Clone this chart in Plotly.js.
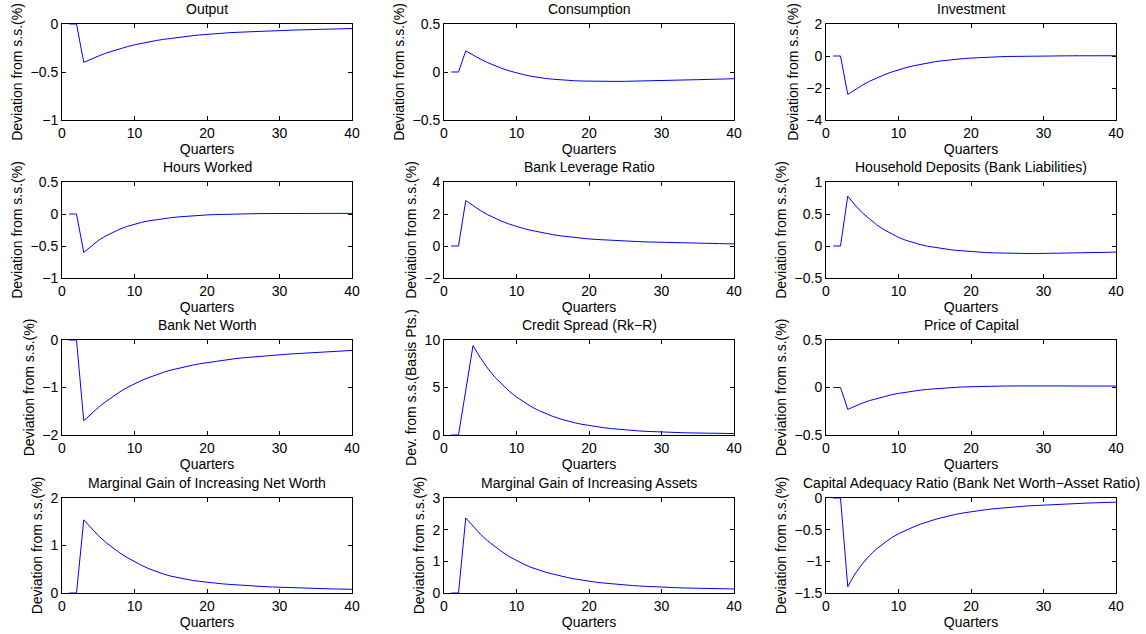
<!DOCTYPE html>
<html>
<head>
<meta charset="utf-8">
<script src="https://cdn.plot.ly/plotly-3.0.1.min.js"></script>
<style>html,body{margin:0;padding:0;background:#fff;}#chart{width:1146px;height:634px;}</style>
</head>
<body>
<div id="chart"></div>
<script>
const quarters = Array.from({length: 40}, (_, i) => i + 1);

const titles = [
  "Output", "Consumption", "Investment",
  "Hours Worked", "Bank Leverage Ratio", "Household Deposits (Bank Liabilities)",
  "Bank Net Worth", "Credit Spread (Rk\u2212R)", "Price of Capital",
  "Marginal Gain of Increasing Net Worth", "Marginal Gain of Increasing Assets", "Capital Adequacy Ratio (Bank Net Worth\u2212Asset Ratio)"
];
const yTitles = [
  "Deviation from s.s.(%)", "Deviation from s.s.(%)", "Deviation from s.s.(%)",
  "Deviation from s.s.(%)", "Deviation from s.s.(%)", "Deviation from s.s.(%)",
  "Deviation from s.s.(%)", "Dev. from s.s.(Basis Pts.)", "Deviation from s.s.(%)",
  "Deviation from s.s.(%)", "Deviation from s.s.(%)", "Deviation from s.s.(%)"
];
const yRanges = [
  [-1, 0], [-0.5, 0.5], [-4, 2],
  [-1, 0.5], [-2, 4], [-0.5, 1],
  [-2, 0], [0, 10], [-0.5, 0.5],
  [0, 2], [0, 3], [-1.5, 0]
];
const yDticks = [0.5, 0.5, 2, 0.5, 2, 0.5, 1, 5, 0.5, 1, 1, 0.5];

const output = [0, 0, -0.40, -0.365, -0.335, -0.305, -0.28, -0.257, -0.236, -0.217, -0.200, -0.185, -0.172, -0.160, -0.149, -0.139, -0.130, -0.122, -0.114, -0.107, -0.101, -0.096, -0.091, -0.087, -0.083, -0.080, -0.077, -0.074, -0.071, -0.068, -0.066, -0.063, -0.061, -0.059, -0.057, -0.055, -0.053, -0.051, -0.049, -0.047];
const consumption = [0, 0, 0.22, 0.175, 0.135, 0.098, 0.066, 0.037, 0.012, -0.01, -0.028, -0.044, -0.057, -0.067, -0.075, -0.082, -0.087, -0.091, -0.094, -0.096, -0.097, -0.098, -0.098, -0.098, -0.097, -0.096, -0.095, -0.094, -0.092, -0.090, -0.088, -0.086, -0.084, -0.082, -0.080, -0.078, -0.076, -0.074, -0.072, -0.070];
const investment = [0, 0, -2.40, -2.10, -1.83, -1.58, -1.37, -1.18, -1.01, -0.86, -0.73, -0.62, -0.52, -0.43, -0.36, -0.30, -0.245, -0.20, -0.16, -0.13, -0.10, -0.08, -0.06, -0.045, -0.03, -0.02, -0.01, -0.005, 0, 0.005, 0.008, 0.01, 0.012, 0.013, 0.014, 0.015, 0.015, 0.015, 0.015, 0.015];
const hoursWorked = [0, 0, -0.60, -0.50, -0.415, -0.345, -0.285, -0.235, -0.193, -0.158, -0.13, -0.107, -0.088, -0.072, -0.058, -0.046, -0.036, -0.027, -0.02, -0.014, -0.009, -0.005, -0.002, 0.001, 0.003, 0.005, 0.006, 0.007, 0.008, 0.009, 0.01, 0.01, 0.01, 0.01, 0.01, 0.01, 0.01, 0.01, 0.01, 0.01];
const bankLeverage = [0, 0, 2.84, 2.51, 2.22, 1.96, 1.74, 1.54, 1.37, 1.22, 1.09, 0.98, 0.88, 0.79, 0.71, 0.64, 0.58, 0.53, 0.48, 0.44, 0.41, 0.38, 0.35, 0.33, 0.31, 0.29, 0.27, 0.255, 0.24, 0.225, 0.21, 0.20, 0.19, 0.18, 0.17, 0.16, 0.155, 0.15, 0.14, 0.135];
const householdDeposits = [0, 0, 0.78, 0.64, 0.52, 0.42, 0.33, 0.255, 0.19, 0.135, 0.09, 0.052, 0.022, -0.003, -0.023, -0.04, -0.055, -0.068, -0.079, -0.088, -0.096, -0.102, -0.107, -0.111, -0.114, -0.116, -0.117, -0.118, -0.118, -0.117, -0.116, -0.114, -0.112, -0.11, -0.108, -0.105, -0.103, -0.10, -0.098, -0.095];
const bankNetWorth = [0, 0, -1.70, -1.55, -1.42, -1.30, -1.19, -1.09, -1.0, -0.92, -0.85, -0.79, -0.73, -0.68, -0.635, -0.595, -0.56, -0.53, -0.50, -0.475, -0.45, -0.43, -0.41, -0.39, -0.375, -0.36, -0.345, -0.33, -0.32, -0.31, -0.30, -0.29, -0.28, -0.27, -0.26, -0.25, -0.245, -0.235, -0.228, -0.22];
const creditSpread = [0, 0, 4.7, 9.4, 8.15, 7.05, 6.1, 5.3, 4.6, 4.0, 3.47, 3.0, 2.6, 2.26, 1.96, 1.70, 1.48, 1.29, 1.13, 0.99, 0.87, 0.77, 0.68, 0.60, 0.53, 0.47, 0.42, 0.38, 0.34, 0.31, 0.28, 0.26, 0.24, 0.22, 0.20, 0.19, 0.18, 0.17, 0.16, 0.15];
const priceOfCapital = [0, 0, -0.23, -0.195, -0.165, -0.138, -0.115, -0.095, -0.077, -0.062, -0.049, -0.038, -0.028, -0.02, -0.013, -0.007, -0.002, 0.002, 0.006, 0.009, 0.011, 0.013, 0.014, 0.015, 0.016, 0.017, 0.017, 0.017, 0.017, 0.017, 0.017, 0.017, 0.016, 0.016, 0.016, 0.016, 0.015, 0.015, 0.015, 0.015];
const gainNetWorth = [0, 0, 1.54, 1.365, 1.21, 1.07, 0.95, 0.84, 0.745, 0.66, 0.58, 0.51, 0.45, 0.40, 0.355, 0.32, 0.29, 0.265, 0.245, 0.225, 0.21, 0.195, 0.182, 0.17, 0.16, 0.15, 0.142, 0.134, 0.127, 0.12, 0.114, 0.108, 0.103, 0.098, 0.094, 0.09, 0.087, 0.084, 0.081, 0.078];
const gainAssets = [0, 0, 2.37, 2.1, 1.86, 1.65, 1.46, 1.3, 1.15, 1.02, 0.91, 0.81, 0.73, 0.66, 0.6, 0.54, 0.49, 0.445, 0.405, 0.37, 0.34, 0.315, 0.29, 0.27, 0.25, 0.235, 0.22, 0.205, 0.195, 0.185, 0.175, 0.167, 0.16, 0.153, 0.147, 0.142, 0.138, 0.134, 0.13, 0.127];
const capitalAdequacy = [0, 0, -1.40, -1.20, -1.04, -0.91, -0.80, -0.71, -0.63, -0.565, -0.51, -0.46, -0.415, -0.375, -0.34, -0.31, -0.28, -0.255, -0.235, -0.215, -0.20, -0.185, -0.172, -0.16, -0.15, -0.14, -0.132, -0.124, -0.117, -0.11, -0.104, -0.098, -0.093, -0.088, -0.084, -0.08, -0.076, -0.072, -0.069, -0.066];

const series = [output, consumption, investment, hoursWorked, bankLeverage, householdDeposits,
  bankNetWorth, creditSpread, priceOfCapital, gainNetWorth, gainAssets, capitalAdequacy];

const W = 1146, H = 634;
const colPx = [[62, 352], [444, 734], [826, 1116]];
const rowPx = [[24, 120], [182, 278], [340, 435], [498, 593]];
const FONT = "Liberation Sans, Arial, Helvetica, sans-serif";
const FS = 14;

const data = [];
const layout = {
  width: W, height: H,
  margin: {l: 0, r: 0, t: 0, b: 0},
  paper_bgcolor: "#ffffff", plot_bgcolor: "#ffffff",
  showlegend: false,
  font: {family: FONT, size: FS, color: "#000"},
  annotations: []
};

series.forEach((vals, i) => {
  const r = Math.floor(i / 3), c = i % 3;
  const n = i + 1;
  const xa = n === 1 ? "x" : "x" + n;
  const ya = n === 1 ? "y" : "y" + n;
  data.push({
    x: quarters, y: vals, type: "scatter", mode: "lines",
    line: {color: "#0000ff", width: 1, shape: "linear"},
    xaxis: xa, yaxis: ya, hoverinfo: "skip"
  });
  const xd = [colPx[c][0] / W, colPx[c][1] / W];
  const yd = [1 - rowPx[r][1] / H, 1 - rowPx[r][0] / H];
  const common = {
    showgrid: false, zeroline: false, showline: true, linecolor: "#000", linewidth: 1,
    mirror: "ticks", ticks: "inside", ticklen: 4, tickcolor: "#000", tickwidth: 1,
    tickfont: {family: FONT, size: FS, color: "#000"}, fixedrange: true
  };
  layout["xaxis" + (n === 1 ? "" : n)] = Object.assign({}, common, {
    domain: xd, range: [0, 40], tickvals: [0, 10, 20, 30, 40],
    anchor: ya, title: {text: "Quarters", font: {family: FONT, size: FS}, standoff: 0}
  });
  layout["yaxis" + (n === 1 ? "" : n)] = Object.assign({}, common, {
    domain: yd, range: yRanges[i], dtick: yDticks[i], tick0: 0,
    anchor: xa, title: {text: yTitles[i], font: {family: FONT, size: FS}, standoff: 4}
  });
  layout.annotations.push({
    text: titles[i], xref: "paper", yref: "paper",
    x: (xd[0] + xd[1]) / 2, y: yd[1], xanchor: "center", yanchor: "bottom",
    yshift: 5, showarrow: false, font: {family: FONT, size: FS, color: "#000"}
  });
});

Plotly.newPlot("chart", data, layout, {staticPlot: true, displayModeBar: false});
</script>
</body>
</html>
